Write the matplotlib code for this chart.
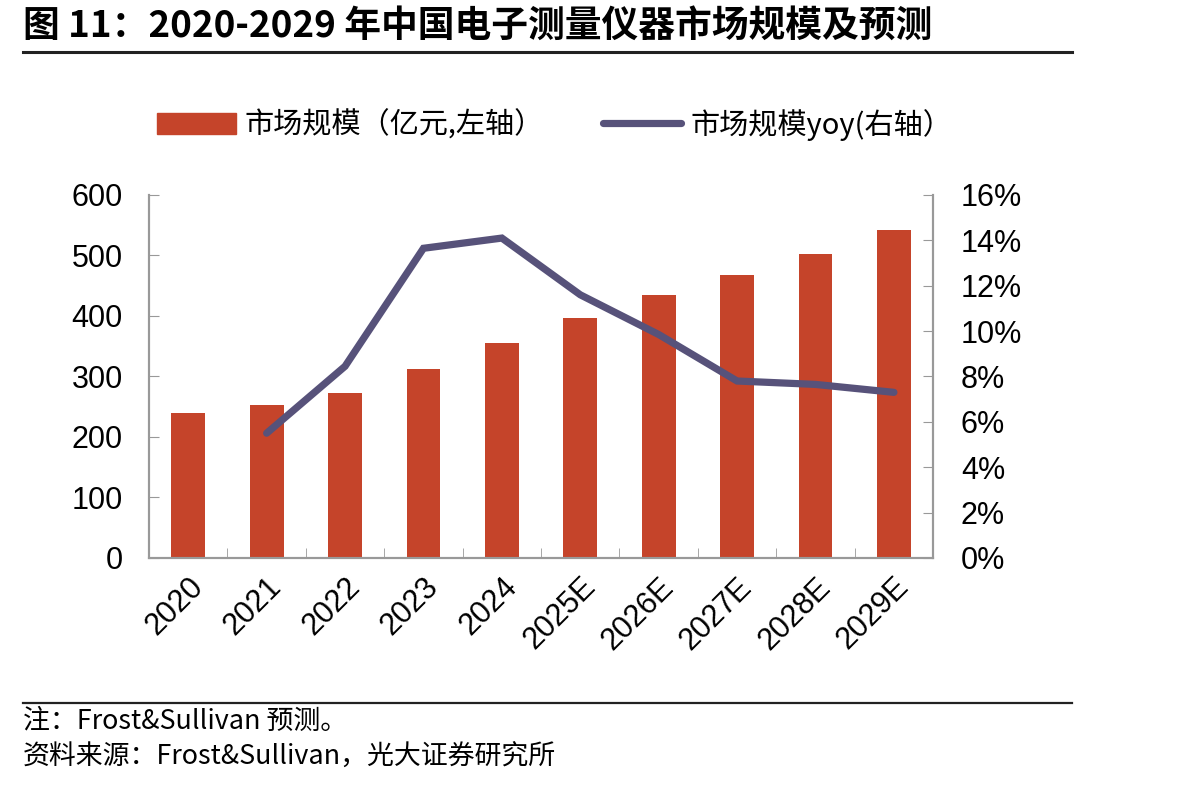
import matplotlib.pyplot as plt
from matplotlib.lines import Line2D
from matplotlib.patches import Patch
from matplotlib.ticker import FuncFormatter

plt.rcParams['font.family'] = ['Liberation Sans', 'Noto Sans CJK SC', 'DejaVu Sans']

# data
years = ["2020", "2021", "2022", "2023", "2024", "2025E", "2026E", "2027E", "2028E", "2029E"]
market_size = [240, 253, 273, 312, 355, 396, 435, 468, 503, 542]   # 亿元
yoy_years = years[1:]
yoy = [5.5, 8.45, 13.65, 14.1, 11.6, 9.85, 7.8, 7.65, 7.3]        # %

bar_color = '#C5442A'
line_color = '#57527A'
axis_color = '#999999'
cjk = ['Noto Sans CJK SC', 'DejaVu Sans']

fig = plt.figure(figsize=(12.04, 7.89), dpi=100)
ax = fig.add_axes([0.1238, 0.2928, 0.6512, 0.4601])
ax2 = ax.twinx()

x = list(range(len(years)))
ax.bar(x, market_size, width=0.43, color=bar_color, zorder=2)
ax2.plot([years.index(y) for y in yoy_years], yoy, color=line_color, lw=5.2,
         solid_capstyle='round', solid_joinstyle='miter', zorder=3)

ax.set_xlim(-0.5, len(years) - 0.5)
ax.set_ylim(0, 600)
ax.set_yticks(range(0, 601, 100))
ax2.set_ylim(0, 16)
ax2.set_yticks(range(0, 17, 2))
ax2.yaxis.set_major_formatter(FuncFormatter(lambda v, p: f"{v:.0f}%"))

ax.set_xticks(x)
ax.set_xticklabels(years, rotation=45, ha='right', rotation_mode='anchor')
ax.set_xticks([i + 0.5 for i in x[:-1]], minor=True)
ax.tick_params(axis='x', which='major', length=0, labelsize=22, pad=10)
ax.tick_params(axis='x', which='minor', direction='in', length=7, color=axis_color)
ax.tick_params(axis='y', direction='in', length=7, color=axis_color, labelsize=22, pad=19)
ax2.tick_params(axis='y', direction='in', length=7, color=axis_color, labelsize=22, pad=20)

for a in (ax, ax2):
    a.spines['top'].set_visible(False)
    for s in ('left', 'right', 'bottom'):
        a.spines[s].set_color(axis_color)
        a.spines[s].set_linewidth(1.5)
ax.set_zorder(ax2.get_zorder() - 1)
ax2.patch.set_visible(False)

# legend
handles = [Patch(color=bar_color), Line2D([0], [0], color=line_color, lw=5.2, solid_capstyle='round')]
labels = ["市场规模（亿元,左轴）", "市场规模yoy(右轴）"]
fig.legend(handles, labels, loc='center left', bbox_to_anchor=(0.109, 0.842), ncol=2,
           frameon=False, prop={'family': cjk, 'size': 21}, handlelength=2.7,
           handleheight=0.75, handletextpad=0.3, columnspacing=2.0)

# title and notes
fig.text(0.019, 0.99, "图 11：2020-2029 年中国电子测量仪器市场规模及预测", family=cjk,
         fontsize=26.5, fontweight='bold', va='top', ha='left')
fig.add_artist(Line2D([0.019, 0.89], [0.934, 0.934], color='#222222', lw=2.2))
fig.add_artist(Line2D([0.019, 0.89], [0.109, 0.109], color='#222222', lw=1.6))
fig.text(0.019, 0.085, "注：Frost&Sullivan 预测。", family=cjk, fontsize=19.4, va='center', ha='left')
fig.text(0.019, 0.040, "资料来源：Frost&Sullivan，光大证券研究所", family=cjk, fontsize=19.4,
         va='center', ha='left')

fig.savefig("out.png", dpi=100)
